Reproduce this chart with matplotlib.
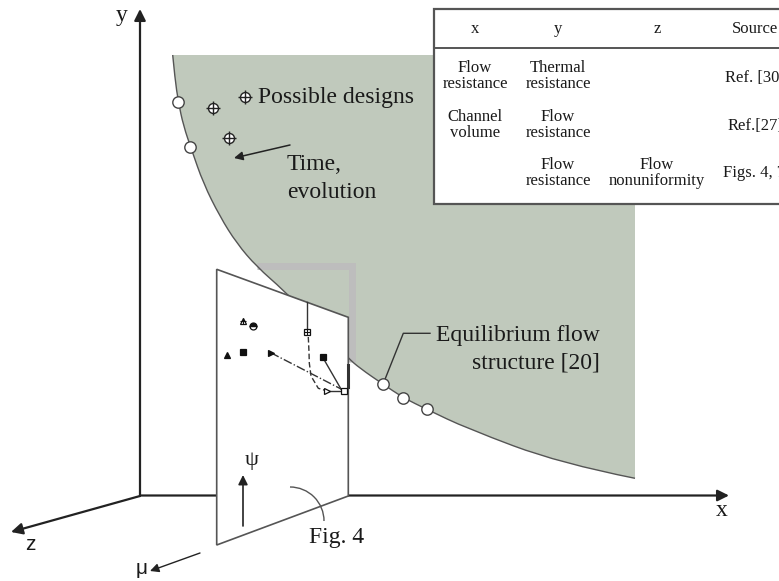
"""
Design-space schematic: Pareto-like front of flow structures in (x, y, z)
with the flow-nonuniformity plane of Fig. 4 and the objective table.
"""

import matplotlib
matplotlib.use('Agg')
import matplotlib.pyplot as plt
from matplotlib.patches import Polygon, Rectangle, Arc, PathPatch
from matplotlib.path import Path

W, H = 779, 581
SERIF = ['Liberation Serif', 'DejaVu Serif']
SANS = ['Liberation Sans', 'DejaVu Sans']
INK = '#1a1a1a'
LINE = '#555555'
REGION = '#c0c9bc'
SHADOW = '#bdbdbd'

# boundary of the feasible region (the front), drawing units
front_x = [172.7, 175.0, 178.3, 183.5, 191.7, 203.3, 220.0, 236.7, 256.7,
           283.3, 315.0, 348.0, 360.0, 382.7, 403.3, 426.7, 466.7, 560.0, 635.0]
front_y = [55.0, 79.0, 101.7, 126.0, 150.0, 183.3, 216.7, 243.3, 266.7,
           290.0, 322.0, 358.0, 368.3, 384.0, 397.7, 409.3, 428.3, 463.3, 478.3]

# equilibrium flow structures sitting on the front
eq_x = [178.3, 190.0, 382.7, 403.3, 426.7]
eq_y = [101.7, 146.7, 384.0, 397.7, 409.3]

# possible (non-optimal) designs inside the region
design_x = [212.7, 245.0, 229.3]
design_y = [108.3, 97.3, 138.3]

# objective table
table_header = ['x', 'y', 'z', 'Source']
table_x = [['Flow', 'resistance'], ['Channel', 'volume'], []]
table_y = [['Thermal', 'resistance'], ['Flow', 'resistance'], ['Flow', 'resistance']]
table_z = [[], [], ['Flow', 'nonuniformity']]
table_src = ['Ref. [30]', 'Ref.[27]', 'Figs. 4, 7']

# Fig. 4 plane: outline corners
plane_x = [216.7, 348.3, 348.3, 216.7]
plane_y = [269.3, 317.3, 496.0, 545.0]

# symbols drawn on the Fig. 4 plane
psi_markers = [
    # x, y, marker, fill
    (243.3, 320.7, '^', 'none'),
    (253.3, 326.0, 'o', 'top'),
    (226.7, 355.0, '^', 'full'),
    (242.7, 351.7, 's', 'full'),
    (270.7, 352.7, '>', 'full'),
    (322.7, 357.3, 's', 'full'),
    (307.3, 332.3, 's', 'none'),
    (327.3, 391.0, '>', 'none'),
    (344.0, 391.0, 's', 'none'),
]
path_dashed_x = [308.3, 309.0, 309.3, 311.0, 318.3, 327.3]
path_dashed_y = [337.0, 352.0, 363.0, 376.0, 388.3, 391.0]
path_dashdot_x = [270.7, 342.0]
path_dashdot_y = [352.7, 389.5]
path_solid_x = [322.7, 341.0]
path_solid_y = [357.3, 389.0]


def arrow(ax, start, tip, lw=1.6, scale=17, color='#222222', z=3):
    ax.annotate('', xy=tip, xytext=start,
                arrowprops=dict(arrowstyle='-|>', color=color, lw=lw,
                                mutation_scale=scale, shrinkA=0, shrinkB=0),
                zorder=z)


def smooth_path(xs, ys):
    """Quadratic B-spline style path through the front's control points."""
    pts = list(zip(xs, ys))
    n = len(pts)
    verts = [pts[0]]
    codes = [Path.MOVETO]
    for i in range(1, n - 1):
        if i == n - 2:
            end = pts[-1]
        else:
            end = ((pts[i][0] + pts[i + 1][0]) / 2, (pts[i][1] + pts[i + 1][1]) / 2)
        verts += [pts[i], end]
        codes += [Path.CURVE3, Path.CURVE3]
    return verts, codes


fig = plt.figure(figsize=(W / 100, H / 100), dpi=100)
ax = fig.add_axes([0, 0, 1, 1])
ax.set_xlim(0, W)
ax.set_ylim(H, 0)
ax.axis('off')

# feasible region and its front
fv, fc = smooth_path(front_x, front_y)
region_path = Path(fv + [(front_x[-1], front_y[0]), fv[0]],
                   fc + [Path.LINETO, Path.CLOSEPOLY])
ax.add_patch(PathPatch(region_path, facecolor=REGION, edgecolor='none', zorder=1))
ax.add_patch(PathPatch(Path(fv, fc), facecolor='none', edgecolor=LINE, lw=1.0, zorder=3))

# projection shadow of the plane onto the region
ax.plot([257, 352, 352], [266, 266, 362], color=SHADOW, lw=5, solid_joinstyle='miter',
        solid_capstyle='butt', zorder=2)

# coordinate axes
arrow(ax, (140, 496), (140, 9))
arrow(ax, (140, 495.5), (729, 495.5))
arrow(ax, (140, 496), (11, 532))
arrow(ax, (200, 553), (150, 571), lw=1.0, scale=13)
ax.text(122, 16, 'y', family=SERIF, fontsize=17, color=INK, ha='center', va='center')
ax.text(722, 511, 'x', family=SERIF, fontsize=17, color=INK, ha='center', va='center')
ax.text(30, 545, 'z', family=SANS, fontsize=15, color=INK, ha='center', va='center')
ax.text(142, 568, 'μ', family=SANS, fontsize=15, color=INK, ha='center', va='center')

# Fig. 4 plane
ax.add_patch(Polygon(list(zip(plane_x, plane_y)), closed=True, facecolor='white',
                     edgecolor=LINE, lw=1.2, zorder=4))
ax.plot([306.7, 306.7], [302.0, 329.0], color='#333333', lw=1.0, zorder=5)
ax.plot(path_dashed_x, path_dashed_y, color='#333333', lw=1.0, ls=(0, (4, 2)), zorder=5)
ax.plot(path_dashdot_x, path_dashdot_y, color='#333333', lw=1.0, ls='-.', zorder=5)
ax.plot(path_solid_x, path_solid_y, color='#333333', lw=1.0, zorder=5)
ax.plot([327.3, 344.0], [391.0, 391.0], color='#333333', lw=1.0, zorder=5)
ax.plot([347.6, 347.6], [365, 387], color='#333333', lw=2.2, zorder=5)
for mx, my, mk, fill in psi_markers:
    face = 'white' if fill == 'none' else '#111111'
    ax.plot(mx, my, marker=mk, ms=5, mfc=face, mec='#111111', mew=0.9,
            fillstyle='full' if fill == 'none' else fill, zorder=6)
ax.plot([243.3, 307.3], [320.7, 332.3], ls='none', marker='+', ms=5, mec='#111111',
        mew=0.8, zorder=7)

# psi arrow inside the plane
arrow(ax, (243, 526), (243, 475), lw=1.2, scale=14, z=6)
ax.text(252, 460, 'ψ', family=SERIF, fontsize=16, color=INK, ha='center', va='center', zorder=6)
ax.add_patch(Arc((290, 521), 68, 68, theta1=-90, theta2=0, color=LINE, lw=1.0, zorder=6))
ax.text(337, 537, 'Fig. 4', family=SERIF, fontsize=17, color=INK, ha='center', va='center')

# equilibrium structures and possible designs
ax.plot(eq_x, eq_y, ls='none', marker='o', ms=8.2, mfc='white', mec='#444444', mew=1.0, zorder=7)
ax.plot(design_x, design_y, ls='none', marker='o', ms=7.2, mfc='white', mec='#222222',
        mew=1.0, zorder=7)
ax.plot(design_x, design_y, ls='none', marker='+', ms=10.5, mec='#222222', mew=1.0, zorder=8)

ax.text(258, 98, 'Possible designs', family=SERIF, fontsize=17, color=INK,
        ha='left', va='center', zorder=8)
arrow(ax, (290, 145), (234, 158), lw=1.1, scale=13, z=8)
ax.text(287, 165, 'Time,', family=SERIF, fontsize=17, color=INK, ha='left', va='center')
ax.text(287, 192, 'evolution', family=SERIF, fontsize=17, color=INK, ha='left', va='center')

ax.plot([430, 403.3, 385], [333.3, 333.3, 379.3], color='#333333', lw=1.0, zorder=6)
ax.text(600, 335, 'Equilibrium flow', family=SERIF, fontsize=17, color=INK,
        ha='right', va='center')
ax.text(600, 363, 'structure [20]', family=SERIF, fontsize=17, color=INK,
        ha='right', va='center')

# objective table (runs off the right edge)
ax.add_patch(Rectangle((434, 9), 400, 195, facecolor='white', edgecolor=LINE, lw=1.6, zorder=9))
ax.plot([434, 834], [48, 48], color=LINE, lw=1.4, zorder=10)
col_x = [475, 558, 657]
for cx, label in zip(col_x, table_header[:3]):
    ax.text(cx, 29, label, family=SERIF, fontsize=12, color=INK, ha='center', va='center', zorder=10)
ax.text(732, 29, table_header[3], family=SERIF, fontsize=12, color=INK, ha='left',
        va='center', zorder=10)

row_top = [68, 117, 165]
for i, top in enumerate(row_top):
    for cx, cell in zip(col_x, [table_x[i], table_y[i], table_z[i]]):
        for j, line in enumerate(cell):
            ax.text(cx, top + 16 * j, line, family=SERIF, fontsize=12, color=INK,
                    ha='center', va='center', zorder=10)
src_left = [725, 728, 723]
src_mid = [78, 126, 173]
for sx, sy, src in zip(src_left, src_mid, table_src):
    ax.text(sx, sy, src, family=SERIF, fontsize=12, color=INK, ha='left', va='center', zorder=10)

fig.savefig('out.png', dpi=100)
